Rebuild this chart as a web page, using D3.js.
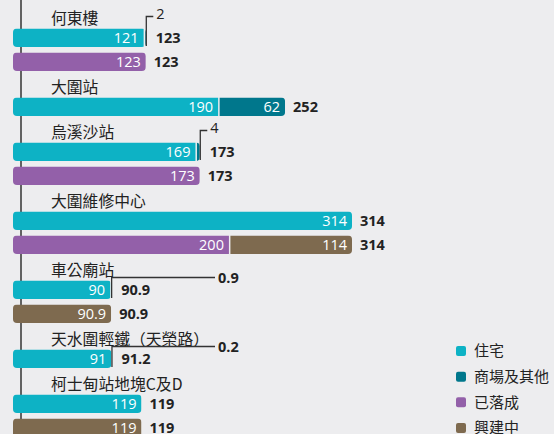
<!DOCTYPE html>
<html>
<head>
<meta charset="utf-8">
<script src="https://cdn.jsdelivr.net/npm/d3@7"></script>
<style>
  html, body { margin: 0; padding: 0; background: #ededef; }
  svg { display: block; }
</style>
</head>
<body>
<div id="chart"></div>
<script>
const w = 554, h = 434;

// data
const categories = ["何東樓", "大圍站", "烏溪沙站", "大圍維修中心", "車公廟站", "天水圍輕鐵（天榮路）", "柯士甸站地塊C及D"];
const residential = [121, 190, 169, 314, 90, 91, 119];
const commercial = [2, 62, 4, 0, 0.9, 0.2, 0];
const completed = [123, null, 173, 200, 0, null, 0];
const underConstruction = [0, null, 0, 114, 90.9, null, 119];
const legendLabels = ["住宅", "商場及其他", "已落成", "興建中"];

const colors = ["#0db2c5", "#00778c", "#9360a9", "#7e6a4f"];
const fontNum = "'Open Sans', 'Noto Sans', sans-serif";
const fontCjk = "'Noto Sans CJK TC', 'Noto Sans', sans-serif";

const svg = d3.select("#chart").append("svg").attr("width", w).attr("height", h);
svg.append("rect").attr("width", w).attr("height", h).attr("fill", "#ededef");

const x = d3.scaleLinear().domain([0, 314]).range([13, 352]);
const barH = 18.5;

// build rows: each category has a label then one or two bars
const rows = [];
const labels = [];
let cursor = 18;
categories.forEach((c, i) => {
  labels.push({ name: c, y: cursor });
  let top = cursor + 10.5;
  const bars = [[residential[i], commercial[i]], [completed[i], underConstruction[i]]];
  bars.forEach((vals, j) => {
    if (vals[0] == null) return;
    rows.push({ id: c + "-" + j, cat: c, set: j, vals, top });
    top += 24;
  });
  cursor = top - 24 + 34.5;
});

// axis line
svg.append("line").attr("x1", 21).attr("x2", 21).attr("y1", 0).attr("y2", h)
  .attr("stroke", "#333").attr("stroke-width", 1.5);

// category labels
svg.append("g").selectAll("text").data(labels).join("text")
  .attr("x", 51).attr("y", d => d.y).attr("dy", "0.36em")
  .attr("font-family", fontCjk).attr("font-size", 15.8).attr("fill", "#222")
  .text(d => d.name);

const defs = svg.append("defs");
const barG = svg.append("g");

rows.forEach((r, ri) => {
  const total = r.vals[0] + r.vals[1];
  const clipId = "clip" + ri;
  defs.append("clipPath").attr("id", clipId).append("rect")
    .attr("x", x(0)).attr("y", r.top).attr("width", x(total) - x(0)).attr("height", barH).attr("rx", 4);

  const g = barG.append("g").attr("clip-path", `url(#${clipId})`);
  const segs = [];
  let start = 0;
  r.vals.forEach((v, j) => {
    if (v > 0) segs.push({ v, x0: start, x1: start + v, color: colors[r.set * 2 + j] });
    start += v;
  });
  g.selectAll("rect").data(segs).join("rect")
    .attr("x", (d, j) => x(d.x0) + (j > 0 ? 1.5 : 0))
    .attr("y", r.top)
    .attr("width", (d, j) => Math.max(0.8, x(d.x1) - x(d.x0) - (j > 0 ? 1.5 : 0)))
    .attr("height", barH)
    .attr("fill", d => d.color);

  // values inside segments
  barG.append("g").selectAll("text").data(segs.filter(d => d.v >= 5)).join("text")
    .attr("x", d => x(d.x1) - 5).attr("y", r.top + barH / 2).attr("dy", "0.36em")
    .attr("text-anchor", "end").attr("font-family", fontNum).attr("font-size", 14.5)
    .attr("fill", "#fff").text(d => d.v);

  // small segments get a leader line
  const small = segs.filter((d, j) => j > 0 && d.v < 5);
  small.forEach(d => {
    const lx = x(d.x1) + 0.5;
    const longLeader = d.v < 1;
    const ly = longLeader ? r.top - 3 : r.top - 12;
    const ex = longLeader ? 215 : lx + 7;
    svg.append("path")
      .attr("d", `M${lx},${r.top + barH - 1}V${ly}H${ex}`)
      .attr("fill", "none").attr("stroke", "#333").attr("stroke-width", 1.3);
    svg.append("text")
      .attr("x", ex + 3).attr("y", ly).attr("dy", longLeader ? "0.36em" : "0.2em")
      .attr("font-family", fontNum).attr("font-size", 14.5)
      .attr("font-weight", longLeader ? 700 : 400).attr("fill", "#222")
      .text(d.v);
  });

  // total label
  svg.append("text")
    .attr("x", x(total) + (small.length ? 10 : 8)).attr("y", r.top + barH / 2).attr("dy", "0.36em")
    .attr("font-family", fontNum).attr("font-size", 14.5).attr("font-weight", 700).attr("fill", "#222")
    .text(total);
});

// legend
const legendY = d3.scalePoint().domain(legendLabels).range([351, 428]);
const lg = svg.append("g").selectAll("g").data(legendLabels).join("g")
  .attr("transform", d => `translate(456,${legendY(d)})`);
lg.append("rect").attr("x", 0).attr("y", -5).attr("width", 10).attr("height", 10).attr("rx", 2)
  .attr("fill", (d, i) => colors[i]);
lg.append("text").attr("x", 18).attr("y", 0).attr("dy", "0.36em")
  .attr("font-family", fontCjk).attr("font-size", 15).attr("fill", "#222").text(d => d);
</script>
</body>
</html>
